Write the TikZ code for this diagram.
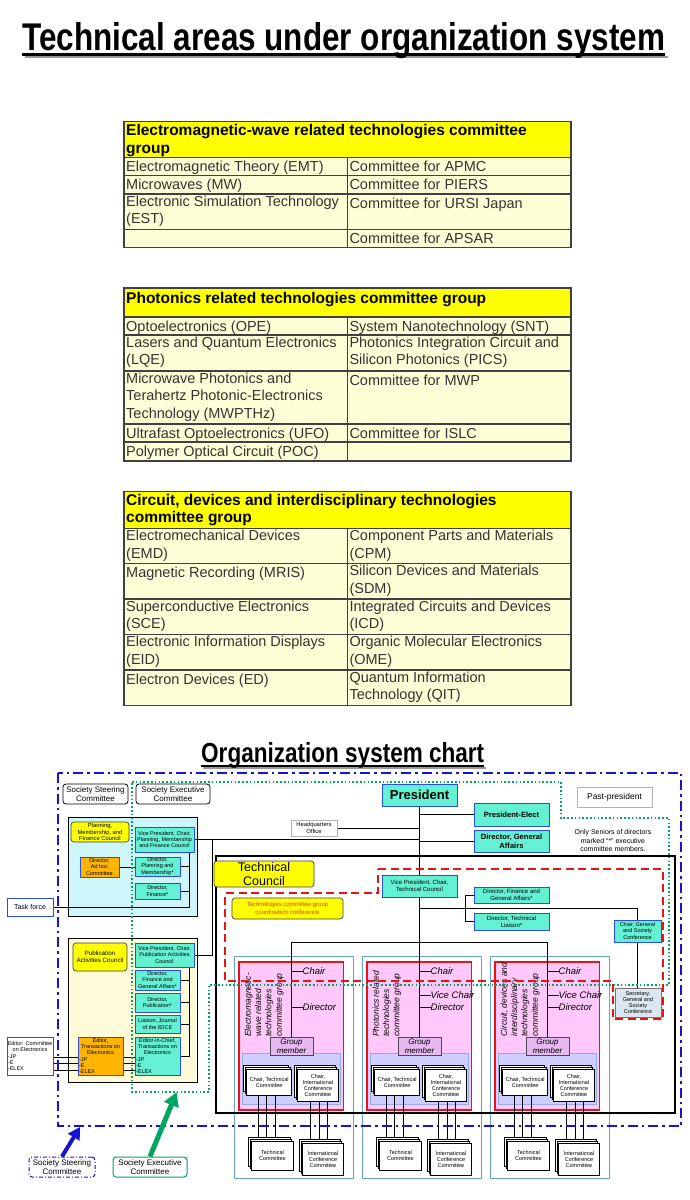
\documentclass[tikz,border=0pt]{standalone}
\usepackage{fontspec}
\usepackage{graphicx}
\setmainfont{Liberation Sans}
\usetikzlibrary{arrows.meta,shadows}

\definecolor{headyellow}{RGB}{255,255,0}
\definecolor{cellyellow}{RGB}{255,255,215}
\definecolor{aqua}{RGB}{100,240,210}
\definecolor{boxblue}{RGB}{40,80,220}
\definecolor{planblue}{RGB}{205,245,250}
\definecolor{publight}{RGB}{255,250,215}
\definecolor{adorange}{RGB}{255,180,0}
\definecolor{grppink}{RGB}{255,200,250}
\definecolor{grplav}{RGB}{205,205,255}
\definecolor{lavline}{RGB}{150,170,230}
\definecolor{grpframe}{RGB}{100,160,210}
\definecolor{tcred}{RGB}{230,20,20}
\definecolor{coordred}{RGB}{235,55,10}
\definecolor{execgreen}{RGB}{0,165,100}
\definecolor{steerblue}{RGB}{20,20,210}
\definecolor{secgray}{RGB}{220,230,240}
\definecolor{memberlav}{RGB}{230,185,240}

\pgfdeclarelayer{back}
\pgfdeclarelayer{wires}
\pgfdeclarelayer{front}
\pgfsetlayers{back,wires,main,front}

\newcommand\leftrow[2][43pt]{\makebox[#1][l]{#2}}

\tikzset{
  sz/.style 2 args={minimum width=#1pt, minimum height=#2pt},
  cell/.style={anchor=north west, inner sep=0pt, align=left, text=black!80,
    font=\fontsize{14.5}{17.6}\selectfont, execute at begin node=\strut},
  headcell/.style={cell, text=black, font=\fontsize{15.5}{17.5}\selectfont\bfseries},
  tline/.style={draw=black!75, line width=1.1pt},
  orgbox/.style={draw=boxblue, fill=aqua, line width=0.7pt, inner sep=0pt,
    align=center, font=\fontsize{5.5}{6.1}\selectfont},
  councilbox/.style={orgbox, draw=black!75, fill=headyellow, rounded corners=3pt},
  adbox/.style={orgbox, fill=adorange},
  plainbox/.style={orgbox, fill=white, draw=black!30},
  frame/.style={draw=black, fill=white, rounded corners=3pt, line width=0.8pt,
    inner sep=0pt, align=center, font=\fontsize{8}{9}\selectfont},
  steerframe/.style={frame, draw=steerblue, line width=1pt,
    dash pattern=on 4pt off 2pt on 1pt off 2pt},
  execframe/.style={frame, draw=execgreen, line width=1pt},
  memberbox/.style={orgbox, fill=memberlav, draw=black!70,
    font=\fontsize{8}{9}\selectfont\itshape},
  stackbox/.style={orgbox, fill=white, draw=black,
    copy shadow={shadow xshift=-3pt, shadow yshift=4pt, draw=black, line width=0.7pt},
    copy shadow={shadow xshift=-1.5pt, shadow yshift=2pt, draw=black, line width=0.7pt}},
  post/.style={anchor=west, inner sep=0pt, font=\fontsize{9.5}{10}\selectfont\itshape},
  grouplabel/.style={rotate=90, anchor=north west, inner sep=0pt, align=left,
    font=\fontsize{8.5}{10.3}\selectfont\itshape},
  wire/.style={draw=black, line width=0.9pt},
}

\begin{document}
\begin{tikzpicture}[x=1pt,y=-1pt]
\useasboundingbox (0,0) rectangle (690,1200);

% ---- heading
\draw[black!40, line width=2.5pt] (24.5,57) -- (667.5,57);
\node[anchor=base west, inner sep=0pt] (title) at (22,50)
  {\resizebox{643pt}{28pt}{\bfseries Technical areas under organization system}};
\draw[line width=2.5pt] (22,54.5) -- (665,54.5);

% ---- table: electromagnetic-wave
\fill[headyellow] (124,121.7) rectangle (571,157.7);
\fill[cellyellow] (124,157.7) rectangle (571,247.7);
\foreach \r in {157.7,175.7,194,229.3}
  \draw[tline] (124,\r) -- (571,\r);
\draw[tline] (347.3,157.7) -- (347.3,247.7);
\draw[tline] (124,121.7) rectangle (571,247.7);
\node[headcell] (emhead) at (126,124.5) {Electromagnetic-wave related technologies committee\\group};
\node[cell] (emt) at (126,159.2) {Electromagnetic Theory (EMT)};
\node[cell] (apmc) at (349.3,159.2) {Committee for APMC};
\node[cell] (mw) at (126,177.2) {Microwaves (MW)};
\node[cell] (piers) at (349.3,177.2) {Committee for PIERS};
\node[cell] (est) at (126,195.5) {Electronic Simulation Technology\\(EST)};
\node[cell] (ursi) at (349.3,195.5) {Committee for URSI Japan};
\node[cell] (apsar) at (349.3,230.8) {Committee for APSAR};

% ---- table: photonics
\fill[headyellow] (124,288) rectangle (571,317);
\fill[cellyellow] (124,317) rectangle (571,461);
\foreach \r in {317,335,371,424,442}
  \draw[tline] (124,\r) -- (571,\r);
\draw[tline] (347.3,317) -- (347.3,461);
\draw[tline] (124,288) rectangle (571,461);
\node[headcell] (phhead) at (126,291) {Photonics related technologies committee group};
\node[cell] (ope) at (126,318.5) {Optoelectronics (OPE)};
\node[cell] (snt) at (349.3,318.5) {System Nanotechnology (SNT)};
\node[cell] (lqe) at (126,336.5) {Lasers and Quantum Electronics\\(LQE)};
\node[cell] (pics) at (349.3,336.5) {Photonics Integration Circuit and\\Silicon Photonics (PICS)};
\node[cell] (mwpthz) at (126,372.5) {Microwave Photonics and\\Terahertz Photonic-Electronics\\Technology (MWPTHz)};
\node[cell] (mwp) at (349.3,372.5) {Committee for MWP};
\node[cell] (ufo) at (126,425.5) {Ultrafast Optoelectronics (UFO)};
\node[cell] (islc) at (349.3,425.5) {Committee for ISLC};
\node[cell] (poc) at (126,443.5) {Polymer Optical Circuit (POC)};

% ---- table: circuit, devices
\fill[headyellow] (124,491.7) rectangle (571,528.3);
\fill[cellyellow] (124,528.3) rectangle (571,705.7);
\foreach \r in {528.3,563.3,599,634.3,670}
  \draw[tline] (124,\r) -- (571,\r);
\draw[tline] (347.3,528.3) -- (347.3,705.7);
\draw[tline] (124,491.7) rectangle (571,705.7);
\node[headcell] (cdhead) at (126,494) {Circuit, devices and interdisciplinary technologies\\committee group};
\node[cell] (emd) at (126,529.8) {Electromechanical Devices\\(EMD)};
\node[cell] (cpm) at (349.3,529.8) {Component Parts and Materials\\(CPM)};
\node[cell] (mris) at (126,564.8) {Magnetic Recording (MRIS)};
\node[cell] (sdm) at (349.3,564.8) {Silicon Devices and Materials\\(SDM)};
\node[cell] (sce) at (126,600.5) {Superconductive Electronics\\(SCE)};
\node[cell] (icd) at (349.3,600.5) {Integrated Circuits and Devices\\(ICD)};
\node[cell] (eid) at (126,635.8) {Electronic Information Displays\\(EID)};
\node[cell] (ome) at (349.3,635.8) {Organic Molecular Electronics\\(OME)};
\node[cell] (ed) at (126,671.5) {Electron Devices (ED)};
\node[cell] (qit) at (349.3,671.5) {Quantum Information\\Technology (QIT)};

% ---- chart heading
\draw[black!40, line width=2pt] (203,768) -- (486,768);
\node[anchor=base west, inner sep=0pt] (subtitle) at (201,762)
  {\resizebox{283pt}{20pt}{\bfseries Organization system chart}};
\draw[line width=2pt] (201,766) -- (484,766);

% ---- technical groups
\foreach \g/\gx/\glabel in {1/234/{Electromagnetic-\\wave related\\technologies\\committee group},
    2/362/{Photonics related\\technologies\\committee group},
    3/490/{Circuit, devices and\\interdisciplinary\\technologies\\committee group}}{
  \begin{pgfonlayer}{back}
    \draw[grpframe, line width=0.8pt] (\gx,956) rectangle (\gx+119,1178);
    \draw[tcred, fill=grppink, line width=1.3pt] (\gx+5,962) rectangle (\gx+109.5,1110);
    \draw[lavline, fill=grplav, line width=0.6pt] (\gx+8.7,1053) rectangle (\gx+106.7,1104);
  \end{pgfonlayer}
  \node[grouplabel] (glbl\g) at (\gx+10.5,1037) {\glabel};
  \node[memberbox, sz={43}{18}] (gm\g) at (\gx+57.5,1046) {Group\\member};
  \node[post] (chair\g) at (\gx+68.5,971) {Chair};
  \node[post] (dir\g) at (\gx+68.5,1007) {Director};
  \node[stackbox, sz={45}{25.7}] (ctc\g) at (\gx+35.2,1082.2) {Chair, Technical\\Committee};
  \node[stackbox, sz={40.6}{32.4}] (cicc\g) at (\gx+84,1085.5) {Chair,\\International\\Conference\\Committee};
  \node[stackbox, sz={41.6}{28.3}] (tc\g) at (\gx+38.5,1155.9) {Technical\\Committee};
  \node[stackbox, sz={40.6}{31.7}] (icc\g) at (\gx+89,1159.2) {International\\Conference\\Committee};
  \begin{pgfonlayer}{wires}
    \draw[wire] (chair\g.west) -- (chair\g.west -| gm\g.north);
    \draw[wire] (dir\g.west) -- (dir\g.west -| gm\g.north);
    \foreach \s in {-11,-2.5,6.5}
      \draw[wire] ([xshift=\s pt]ctc\g.south) -- ([xshift=\s pt]ctc\g.south |- tc\g.north);
    \foreach \s in {-8,1,9.3}
      \draw[wire] ([xshift=\s pt]cicc\g.south) -- ([xshift=\s pt]cicc\g.south |- icc\g.north);
  \end{pgfonlayer}
  \ifnum\g>1
    \node[post] (vice\g) at (\gx+68.5,995) {Vice Chair};
    \begin{pgfonlayer}{wires}
      \draw[wire] (vice\g.west) -- (vice\g.west -| gm\g.north);
    \end{pgfonlayer}
  \fi
}

% ---- areas
\begin{pgfonlayer}{back}
  \draw[black, fill=planblue, line width=1pt] (68,817) rectangle (197,916);
  \draw[black, fill=publight, line width=1pt] (68,938) rectangle (197,1082);
  \draw[black, line width=2pt] (216,856) rectangle (675,1113);
\end{pgfonlayer}

% ---- left side
\node[frame, sz={65}{20}] (steer) at (95.5,794) {Society Steering\\Committee};
\node[frame, sz={74}{20}] (exec) at (173,794) {Society Executive\\Committee};
\node[councilbox, sz={58}{20}, font=\fontsize{5.8}{6.4}\selectfont] (pmfc) at (100,832) {Planning,\\Membership, and\\Finance Council};
\node[orgbox, sz={59}{25}] (vppm) at (164.5,839.5) {Vice President, Chair,\\Planning, Membership\\and Finance Council};
\node[adbox, sz={39}{20}] (adhoc) at (99.5,867) {Director,\\Ad hoc\\Committee};
\node[orgbox, sz={45}{19}] (dirpm) at (157.5,866.5) {Director,\\Planning and\\Membership*};
\node[orgbox, sz={45}{16}] (dirfin) at (157.5,891) {Director,\\Finance*};
\node[orgbox, sz={46}{18}, fill=white, font=\fontsize{7}{8}\selectfont] (task) at (30,907) {Task force};
\node[councilbox, sz={54}{28}, font=\fontsize{6.2}{7.4}\selectfont] (pac) at (100,957) {Publication\\Activities Council};
\node[orgbox, sz={59}{24}] (vppub) at (164.5,955) {Vice President, Chair,\\Publication Activities\\Council};
\node[orgbox, sz={45}{20}] (dirfga) at (157.5,980) {Director,\\Finance and\\General Affairs*};
\node[orgbox, sz={45}{19}] (dirpub) at (157.5,1002.5) {Director,\\Publication*};
\node[orgbox, sz={45}{18}] (liaison) at (157.5,1024) {Liaison, Journal\\of the IEICE};
\node[orgbox, sz={45}{38}] (eic) at (157.5,1056) {Editor-in-Chief,\\Transactions on\\Electronics\\\leftrow{-JP}\\\leftrow{-E}\\\leftrow{-ELEX}};
\node[adbox, sz={45}{38}] (edtr) at (100.5,1056) {Editor,\\Transactions on\\Electronics\\\leftrow{-JP}\\\leftrow{-E}\\\leftrow{-ELEX}};
\node[orgbox, sz={46}{38}, fill=white] (edcom) at (30,1056) {Editor: Committee\\on Electronics\\\leftrow[44pt]{-JP}\\\leftrow[44pt]{-E}\\\leftrow[44pt]{-ELEX}};
\node[steerframe, sz={66}{20}] (steerlbl) at (62,1167) {Society Steering\\Committee};
\node[execframe, sz={74}{20}] (execlbl) at (150,1167) {Society Executive\\Committee};

% ---- centre and right
\node[orgbox, sz={75}{22}, font=\fontsize{13}{14}\selectfont\bfseries] (pres) at (419.5,795) {President};
\node[plainbox, sz={46}{16}, font=\fontsize{5.8}{6.6}\selectfont] (hq) at (314,828) {Headquarters\\Office};
\node[orgbox, sz={75}{23}, font=\fontsize{7.6}{9}\selectfont\bfseries] (pelect) at (511.5,814.5) {President-Elect};
\node[orgbox, sz={75}{22}, font=\fontsize{7.6}{9}\selectfont\bfseries] (dga) at (511.5,841) {Director, General\\Affairs};
\node[plainbox, sz={75}{20}, font=\fontsize{8.5}{10}\selectfont] (past) at (614.5,797) {Past-president};
\node[inner sep=0pt, align=center, font=\fontsize{7}{8.5}\selectfont] (seniors) at (613,840.5) {Only Seniors of directors\\marked “*” executive\\committee members.};
\node[councilbox, sz={100}{26}, font=\fontsize{12.5}{14}\selectfont] (tcouncil) at (264,874) {Technical\\Council};
\node[orgbox, sz={75}{22}, font=\fontsize{6}{7.5}\selectfont] (vptc) at (419.5,886) {Vice President, Chair,\\Technical Council};
\node[orgbox, sz={75}{16}, font=\fontsize{6}{7}\selectfont] (dfga2) at (511.5,895) {Director, Finance and\\General Affairs*};
\node[orgbox, sz={75}{17}, font=\fontsize{6}{7}\selectfont] (dtl) at (511.5,921.5) {Director, Technical\\Liaison*};
\node[councilbox, sz={111}{21}, text=coordred, font=\fontsize{6}{7.5}\selectfont] (coord) at (287.5,908.5) {Technologies committee group\\coordination conference};
\node[orgbox, sz={47}{22}] (cgsc) at (637.5,931) {Chair, General\\and Society\\Conference};
\node[orgbox, sz={46}{29}, fill=secgray, draw=black!55] (sec) at (638,1002.5) {Secretary,\\General and\\Society\\Conference};

\coordinate (tcbus) at (419.5,942);
\coordinate (tlbus) at (419.5,908);
\coordinate (tlx) at (465,908);
\coordinate (pubjoint) at (212,839.5);
\coordinate (plbus) at (189,907);
\coordinate (pbbus) at (189,1056);
\coordinate (steertip) at (80,1127);
\coordinate (exectip) at (176.7,1092);

% ---- connectors
\begin{pgfonlayer}{wires}
  \draw[wire] (pres.south) -- (pres.south |- gm2.north);
  \draw[wire] (gm1.north) |- (tcbus) -| (gm3.north);
  \draw[wire] (hq.east) -- (hq.east -| pres.south);
  \draw[wire] (pelect.west) -- (pelect.west -| pres.south);
  \draw[wire] (dga.west) -- (dga.west -| pres.south);
  \draw[wire] (vppm.east) -- (vppm.east -| pres.south);
  \draw[wire] (vppub.east) -| (pubjoint);
  \draw[wire] (tlbus) -| (cgsc.north);
  \draw[wire] (dfga2.west) -| (tlx);
  \draw[wire] (dtl.west) -| (tlx);
  \draw[wire] (cgsc.south) -- (cgsc.south |- sec.north);
  \draw[wire] (vppm.south -| plbus) -- (plbus) -- (task.east);
  \draw[wire] (dirpm.east) -- (dirpm.east -| plbus);
  \draw[wire] (dirfin.east) -- (dirfin.east -| plbus);
  \draw[wire] (adhoc.east) -- (adhoc.east -| dirpm.west);
  \draw[wire] (vppub.south -| pbbus) -- (pbbus) -- (eic.east);
  \draw[wire] (dirfga.east) -- (dirfga.east -| pbbus);
  \draw[wire] (dirpub.east) -- (dirpub.east -| pbbus);
  \draw[wire] (liaison.east) -- (liaison.east -| pbbus);
  \foreach \s in {-1,-7,-14} {
    \draw[wire] ([yshift=\s pt]edcom.east) -- ([yshift=\s pt]edtr.west);
    \draw[wire] ([yshift=\s pt]edtr.east) -- ([yshift=\s pt]eic.west);
  }
\end{pgfonlayer}

% ---- committee outlines
\begin{pgfonlayer}{front}
  \draw[steerblue, line width=1.8pt, dash pattern=on 10pt off 4pt on 2.5pt off 4pt]
    (58,773) rectangle (681,1126);
  \draw[execgreen, line width=1.6pt, dash pattern=on 1.6pt off 2.2pt]
    (132,782) -- (561,782) -- (561,818) -- (669,818) -- (669,985) -- (209,985)
    -- (209,1092) -- (132,1092) -- cycle;
  \draw[tcred, line width=1.8pt, dash pattern=on 8pt off 4.5pt]
    (378,869) -- (663,869) -- (663,1019) -- (613,1019) -- (613,981) -- (225,981)
    -- (225,893) -- (378,893) -- cycle;
  \draw[steerblue, line width=4pt, -{Triangle[length=12pt,width=13pt]}] (steerlbl.north) -- (steertip);
  \draw[execgreen, line width=5pt, -{Triangle[length=14pt,width=15pt]}] (execlbl.north) -- (exectip);
\end{pgfonlayer}
\end{tikzpicture}
\end{document}
